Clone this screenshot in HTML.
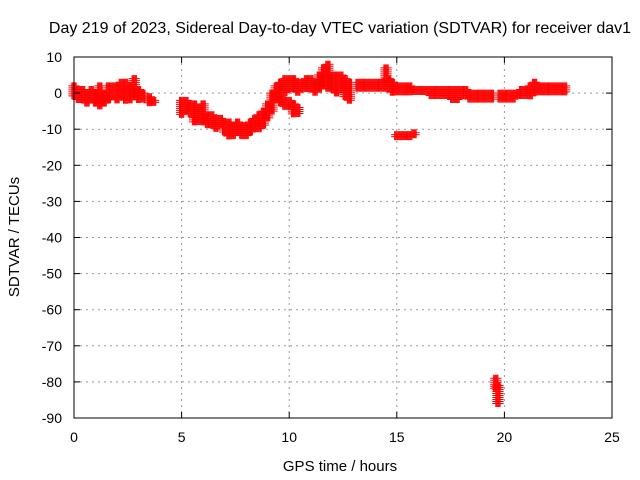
<!DOCTYPE html>
<html><head><meta charset="utf-8"><style>
body{margin:0;background:#fff}
svg{display:block;font-family:"Liberation Sans",sans-serif}
</style></head><body>
<svg id="chart" width="640" height="480" viewBox="0 0 640 480">
<rect width="640" height="480" fill="#fff"/>
<text x="340" y="33" text-anchor="middle" font-size="16">Day 219 of 2023, Sidereal Day-to-day VTEC variation (SDTVAR) for receiver dav1</text>
<g id="grid"></g>
<g id="marks"></g>
<rect x="74" y="57" width="538" height="361" fill="none" stroke="#000" stroke-width="1"/>
<g id="ticks"></g>
<text x="340" y="471" text-anchor="middle" font-size="15">GPS time / hours</text>
<text x="19" y="237" text-anchor="middle" font-size="15" transform="rotate(-90 19 237)">SDTVAR / TECUs</text>
</svg>
<script>
const xTicks=[0,5,10,15,20,25];
const yTicks=[10,0,-10,-20,-30,-40,-50,-60,-70,-80,-90];
const times=[0,0.2,0.4,0.6,0.8,1.0,1.2,1.4,1.6,1.8,2.0,2.2,2.4,2.6,2.8,3.0,3.2,3.5,3.7,
5.0,5.2,5.4,5.6,5.8,6.0,6.2,6.4,6.6,6.8,7.0,7.2,7.4,7.6,7.8,8.0,8.2,8.4,8.6,8.8,9.0,9.2,9.4,9.6,9.8,10.0,10.2,10.4,10.6,10.8,11.0,11.2,11.4,11.6,11.8,12.0,12.2,12.4,12.6,12.8,
9.6,9.8,10.0,10.2,10.4,
13.2,13.4,13.6,13.8,14.0,14.2,14.4,14.5,14.6,14.8,15.0,15.2,15.4,15.6,15.8,16.0,16.2,16.4,16.6,16.8,17.0,17.2,17.4,17.6,17.8,18.0,18.2,18.4,18.6,18.8,19.0,19.2,19.4,
15.0,15.2,15.4,15.6,15.8,
19.6,19.7,
19.8,20.0,20.2,20.4,20.6,20.8,21.0,21.2,21.4,21.6,21.8,22.0,22.2,22.4,22.6,22.8];
const lows=[-1,-2,-2,-3,-2,-3,-4,-3,-2,-1,-2,-1,-2,-2,-1,-2,-2,-3,-3,
-6,-5,-6,-8,-8,-8,-9,-9,-10,-9,-11,-12,-12,-11,-12,-12,-11,-10,-10,-9,-7,-5,-2,0,0,1,1,0,1,1,1,0,1,2,1,1,0,1,-1,-2,
-3,-4,-4,-6,-6,
1,1,1,1,1,1,1,3,1,0,0,0,0,0,0,0,0,0,-1,-1,-1,-1,-1,-2,-2,-1,-1,-2,-2,-2,-2,-2,-2,
-12.5,-12.5,-12.5,-12.5,-12,
-82,-86,
-2,-2,-2,-2,-1,-1,-1,-1,0,0,0,0,0,0,0,0];
const highs=[2,1,1,0,1,0,2,0,2,2,2,3,3,2,4,1,0,-1,-2,
-2,-2,-3,-3,-4,-3,-6,-6,-7,-7,-8,-8,-9,-8,-9,-9,-8,-7,-6,-5,-3,0,2,3,4,4,4,3,3,4,4,3,5,7,8,5,5,5,4,3,
-1,-2,-2,-3,-4,
3,3,3,3,3,3,3,7,4,3,2,2,2,2,1,1,1,1,1,1,1,1,1,1,1,1,1,0,0,0,0,0,0,
-11.5,-11.5,-11.5,-11.5,-11,
-79,-81,
0,0,0,0,0,1,1,2,3,2,2,2,2,2,2,2];
const X0=74,X1=612,Y0=418,Y1=57;
const xs=t=>X0+(t-0)/(25-0)*(X1-X0);
const ys=v=>Y0-(v+90)/(100)*(Y0-Y1);
const NS="http://www.w3.org/2000/svg";
const grid=document.getElementById('grid'),ticks=document.getElementById('ticks'),marks=document.getElementById('marks');
function mk(tag,attrs,parent){const e=document.createElementNS(NS,tag);for(const k in attrs)e.setAttribute(k,attrs[k]);parent.appendChild(e);return e;}
xTicks.forEach(t=>{const x=xs(t);
 if(t>0&&t<25){const g=mk('line',{x1:x,x2:x,y1:Y1,y2:Y0,stroke:'#999','stroke-dasharray':'2,4'},grid);
 
 }
 const a=mk('line',{x1:x,x2:x,y1:Y0,y2:Y0-6,stroke:'#000'},ticks);
 const b=mk('line',{x1:x,x2:x,y1:Y1,y2:Y1+6,stroke:'#000'},ticks);
 const l=mk('text',{x:x,y:Y0+24,'text-anchor':'middle','font-size':14},ticks);l.textContent=t;
 
 });
yTicks.forEach(v=>{const y=ys(v);
 if(v<10&&v>-90){const g=mk('line',{x1:X0,x2:X1,y1:y,y2:y,stroke:'#999','stroke-dasharray':'2,4'},grid);
 
 }
 const a=mk('line',{x1:X0,x2:X0+6,y1:y,y2:y,stroke:'#000'},ticks);
 const b=mk('line',{x1:X1,x2:X1-6,y1:y,y2:y,stroke:'#000'},ticks);
 const l=mk('text',{x:X0-12,y:y+5,'text-anchor':'end','font-size':14},ticks);l.textContent=v;
 
 });
let d='';
for(let i=0;i<times.length;i++){
 const lo=Math.min(lows[i],highs[i]),hi=Math.max(lows[i],highs[i]);
 const y0=ys(lo),y1=ys(hi);
 for(const dt of [-0.1,-0.05,0,0.05,0.1]){
  const x=xs(times[i]+dt);
  for(let y=y1;y<=y0+0.01;y+=2){d+=`M${x-3.5} ${y}h7M${x} ${y-3.5}v7`;}
 }
}
const p=mk('path',{d:d,stroke:'#f00','stroke-width':1,fill:'none'},marks);


</script>
</body></html>
